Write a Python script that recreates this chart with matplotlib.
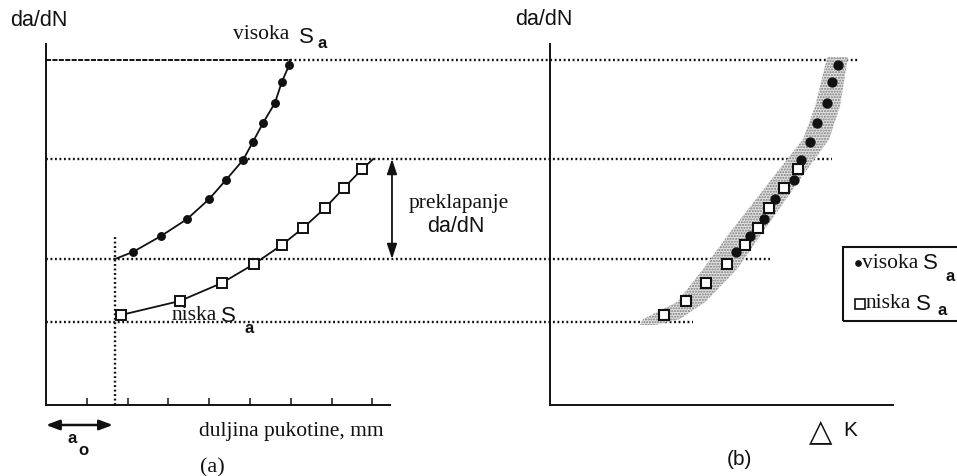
import matplotlib
matplotlib.use("Agg")
import matplotlib.pyplot as plt
from matplotlib.patches import Rectangle
from matplotlib.lines import Line2D

# ---- data -------------------------------------------------------------
# da/dN levels (arbitrary units) shared by both panels
dadn_high = [1.53, 1.69, 1.86, 2.06, 2.25, 2.45, 2.63, 2.82, 3.02, 3.23, 3.40]
dadn_low = [0.90, 1.04, 1.22, 1.41, 1.60, 1.77, 1.97, 2.17, 2.36]

# crack length (tick units) for panel (a)
len_high = [2.13, 2.82, 3.46, 4.00, 4.41, 4.83, 5.07, 5.32, 5.61, 5.78, 5.96]
len_low = [1.84, 3.28, 4.31, 5.10, 5.78, 6.30, 6.84, 7.30, 7.75]

# curve ends (start at a0, end on the reference levels)
a0 = 1.69
high_start, high_end = (a0, 1.46), (5.98, 3.45)
low_start, low_end = (1.84, 0.90), (8.02, 2.46)

# delta K (arbitrary units) for panel (b)
dk_high = [4.65, 5.00, 5.35, 5.63, 6.10, 6.28, 6.50, 6.68, 6.93, 7.05, 7.20]
dk_low = [2.85, 3.40, 3.90, 4.43, 4.88, 5.20, 5.48, 5.85, 6.20]

# scatter band in panel (b)
band_dadn = [3.48, 2.99, 2.66, 2.33, 1.69, 1.36, 1.03, 0.86, 0.80]
band_left = [6.93, 6.63, 6.33, 5.68, 4.43, 3.83, 3.18, 2.33, 2.25]
band_right = [7.45, 7.25, 6.98, 6.38, 5.25, 4.68, 3.88, 3.25, 2.63]

# horizontal reference levels and where they stop in panel (b)
levels = [3.45, 2.46, 1.46, 0.83]
level_start_len = [5.98, 0.0, 0.0, 0.0]
level_end_dk = [7.70, 7.05, 5.50, 3.58]

len_ticks = [1, 2, 3, 4, 5, 6, 7, 8]

# ---- figure -----------------------------------------------------------
W, H = 957, 477
fig = plt.figure(figsize=(W / 100, H / 100), dpi=100)
SERIF = "Liberation Serif"
SANS = "Liberation Sans"
INK = "#111111"


def fpos(x, y):
    return x / W, 1 - y / H


def ftext(x, y, s, family=SANS, size=15, **kw):
    fig.text(*fpos(x, y), s, family=family, fontsize=size, va="baseline",
             ha=kw.pop("ha", "left"), color=INK, **kw)


ax_l = fig.add_axes([46 / W, 1 - 406 / H, 344 / W, 361 / H])
ax_r = fig.add_axes([550 / W, 1 - 406 / H, 343 / W, 361 / H])

for ax, xmax in ((ax_l, 344 / 40.8), (ax_r, 343 / 40.0)):
    ax.set_xlim(0, xmax)
    ax.set_ylim(0, 3.61)
    ax.patch.set_alpha(0)
    for side in ("top", "right"):
        ax.spines[side].set_visible(False)
    for side in ("left", "bottom"):
        ax.spines[side].set_linewidth(1.4)
        ax.spines[side].set_color(INK)
    ax.set_yticks([])

ax_l.set_xticks(len_ticks)
ax_l.tick_params(axis="x", direction="in", length=5, width=1.1,
                 labelbottom=False, color=INK)
ax_r.set_xticks([])

DOT = dict(color=INK, lw=1.7, linestyle=(0, (0.8, 1.1)))

# reference levels running across both panels
for lev, x0, x1 in zip(levels, level_start_len, level_end_dk):
    disp = ax_l.transData.transform((x0, lev))
    xs = ax_r.transData.inverted().transform(disp)[0]
    ax_r.plot([xs, x1], [lev, lev], clip_on=False, zorder=1, **DOT)

# dashed top line in panel (a) up to the end of the high-amplitude curve
ax_l.plot([0, high_end[0]], [levels[0], levels[0]], color=INK,
          lw=1.4, linestyle=(0, (2.6, 0.7)), zorder=2)

# initial crack length marker
ax_l.plot([a0, a0], [0, 1.69], **DOT, zorder=1)

# panel (a) curves
hx = [high_start[0]] + len_high + [high_end[0]]
hy = [high_start[1]] + dadn_high + [high_end[1]]
lx = [low_start[0]] + len_low + [low_end[0]]
ly = [low_start[1]] + dadn_low + [low_end[1]]
ax_l.plot(hx, hy, color=INK, lw=1.3, zorder=3)
ax_l.plot(lx, ly, color=INK, lw=1.3, zorder=3)
ax_l.plot(len_high, dadn_high, "o", ms=5.4, color=INK, zorder=4)
ax_l.plot(len_low, dadn_low, "s", ms=6.6, mfc="white", mec=INK,
          mew=1.4, zorder=4)

# panel (b) band and points
ax_r.fill_betweenx(band_dadn, band_left, band_right, facecolor="#e2e2e2",
                   edgecolor="#7a7a7a", hatch="......", linewidth=0, zorder=2)
ax_r.plot(dk_high, dadn_high, "o", ms=6.4, color=INK, zorder=4)
ax_r.plot(dk_low, dadn_low, "s", ms=6.6, mfc="white", mec=INK,
          mew=1.5, zorder=5)

# overlap arrow
ax_l.annotate("", xy=(8.48, levels[1]), xytext=(8.48, levels[2]),
              arrowprops=dict(arrowstyle="<|-|>,head_length=0.9,head_width=0.3",
                              color=INK, lw=1.3, shrinkA=0, shrinkB=0),
              annotation_clip=False)
# a0 arrow
ax_l.annotate("", xy=(0, -0.20), xytext=(1.64, -0.20),
              arrowprops=dict(arrowstyle="<|-|>,head_length=0.8,head_width=0.3",
                              color=INK, lw=1.8, shrinkA=0, shrinkB=0),
              annotation_clip=False)

# ---- text ---------------------------------------------------------------
ftext(10, 26, "da/dN", size=15.5)
ftext(515, 25, "da/dN", size=15.5)

ftext(233, 39, "visoka", family=SERIF, size=15.5)
ftext(299, 43, "S", size=16)
ftext(318, 48, "a", size=12, weight="bold")

ftext(172, 320, "niska", family=SERIF, size=15.5)
ftext(221, 322, "S", size=16)
ftext(245, 333, "a", size=12, weight="bold")

ftext(409, 208, "preklapanje", family=SERIF, size=15.5)
ftext(427, 232, "da/dN", size=15.5)

ftext(68, 443, "a", size=12, weight="bold")
ftext(78, 455, "o", size=12, weight="bold")
ftext(199, 436, "duljina pukotine, mm", family=SERIF, size=15.5)
ftext(200, 472, "(a)", family=SERIF, size=16)

ftext(809, 440, "\u25b3", family="DejaVu Sans", size=22)
ftext(843, 436, "K", size=15)
ftext(727, 465, "(b)", size=15)

# legend box
fig.add_artist(Rectangle(fpos(843, 322), 130 / W, 74 / H, transform=fig.transFigure,
                         fill=False, lw=1.5, edgecolor=INK, clip_on=False))
fig.add_artist(Line2D([858 / W], [1 - 264 / H], marker="o", ms=3.8,
                      color=INK, transform=fig.transFigure))
fig.add_artist(Line2D([859.5 / W], [1 - 305 / H], marker="s", ms=7, mfc="white",
                      mec=INK, mew=1.2, transform=fig.transFigure))
ftext(862, 268, "visoka", family=SERIF, size=15.5)
ftext(923, 269, "S", size=16)
ftext(945, 281, "a", size=12, weight="bold")
ftext(866, 308, "niska", family=SERIF, size=15.5)
ftext(916, 310, "S", size=16)
ftext(937, 315, "a", size=12, weight="bold")

fig.savefig("out.png", dpi=100)
